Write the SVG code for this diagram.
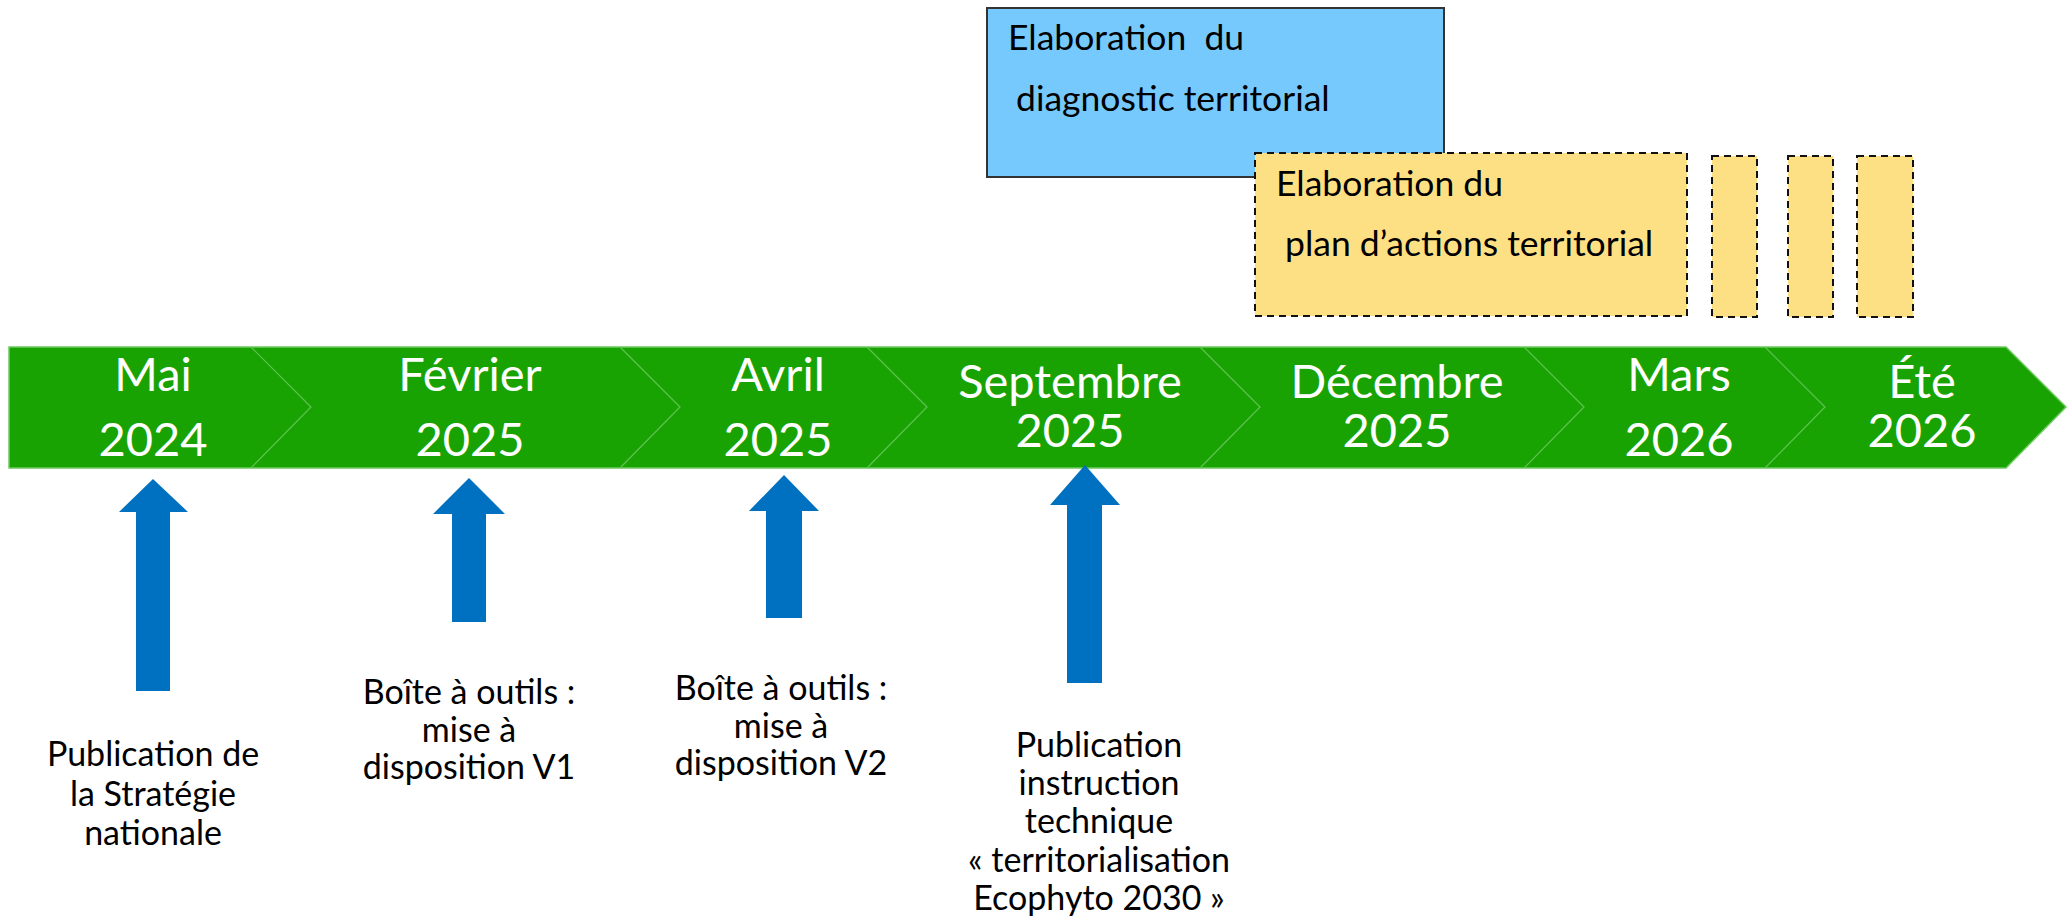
<svg xmlns="http://www.w3.org/2000/svg" width="2071" height="922" viewBox="0 0 2071 922">
<style>
.band{fill:#19A303;stroke:#6CCB5F;stroke-width:1.5}
.sep{fill:none;stroke:#5FC352;stroke-width:1.2}
.bt{font-family:Lato,"Open Sans",sans-serif;font-size:47px;fill:#fff;text-anchor:middle}
.box-t{font-family:Lato,"Open Sans",sans-serif;font-size:35.5px;fill:#000}
.lbl{font-family:Lato,"Open Sans",sans-serif;font-size:34px;fill:#000;text-anchor:middle}
.arrow{fill:#0070C0}
.blue{fill:#76C9FC;stroke:#333;stroke-width:2}
.yel{fill:#FEE084;stroke:#111;stroke-width:2;stroke-dasharray:7 5}
</style>
<rect width="2071" height="922" fill="#fff"/>
<g id="timeline">
<polygon class="band" points="9,347 2006,347 2066,407 2006,468 9,468"/>
</g>
<g id="connectors">
<polyline class="sep" points="251,347 311,407 251,468"/>
<polyline class="sep" points="620,347 680,407 620,468"/>
<polyline class="sep" points="867,347 927,407 867,468"/>
<polyline class="sep" points="1200,347 1260,407 1200,468"/>
<polyline class="sep" points="1524,347 1584,407 1524,468"/>
<polyline class="sep" points="1765,347 1825,407 1765,468"/>
</g>
<g id="m-mai"><text class="bt" x="153" y="391">Mai</text><text class="bt" x="153" y="456">2024</text></g>
<g id="m-fev"><text class="bt" x="470" y="391">Février</text><text class="bt" x="470" y="456">2025</text></g>
<g id="m-avr"><text class="bt" x="778" y="391">Avril</text><text class="bt" x="778" y="456">2025</text></g>
<g id="m-sep"><text class="bt" x="1070" y="398">Septembre</text><text class="bt" x="1070" y="447">2025</text></g>
<g id="m-dec"><text class="bt" x="1397" y="398">Décembre</text><text class="bt" x="1397" y="447">2025</text></g>
<g id="m-mar"><text class="bt" x="1679" y="391">Mars</text><text class="bt" x="1679" y="456">2026</text></g>
<g id="m-ete"><text class="bt" x="1922" y="398">Été</text><text class="bt" x="1922" y="447">2026</text></g>

<g id="diag">
<rect class="blue" x="987" y="8" width="457" height="169"/>
<text class="box-t" x="1008" y="50" xml:space="preserve">Elaboration  du</text>
<text class="box-t" x="1016" y="111">diagnostic territorial</text>
</g>
<g id="plan">
<rect class="yel" x="1255" y="153" width="432" height="163"/>
<text class="box-t" x="1276" y="196">Elaboration du</text>
<text class="box-t" x="1285" y="256">plan d’actions territorial</text>
</g>
<g id="p1"><rect class="yel" x="1712" y="156" width="45" height="161"/></g>
<g id="p2"><rect class="yel" x="1788" y="156" width="45" height="161"/></g>
<g id="p3"><rect class="yel" x="1857" y="156" width="56" height="161"/></g>

<g id="a1">
<polygon class="arrow" points="153,479 188,512 170,512 170,691 136,691 136,512 119,512"/>
<text class="lbl" x="153" y="766">Publication de</text>
<text class="lbl" x="153" y="806">la Stratégie</text>
<text class="lbl" x="153" y="845">nationale</text>
</g>
<g id="a2">
<polygon class="arrow" points="469,478 505,514 486,514 486,622 452,622 452,514 433,514"/>
<text class="lbl" x="469" y="704">Boîte à outils :</text>
<text class="lbl" x="469" y="742">mise à</text>
<text class="lbl" x="469" y="779">disposition V1</text>
</g>
<g id="a3">
<polygon class="arrow" points="784,475 819,511 802,511 802,618 766,618 766,511 749,511"/>
<text class="lbl" x="781" y="700">Boîte à outils :</text>
<text class="lbl" x="781" y="738">mise à</text>
<text class="lbl" x="781" y="775">disposition V2</text>
</g>
<g id="a4">
<polygon class="arrow" points="1085,465 1120,505 1102,505 1102,683 1067,683 1067,505 1050,505"/>
<text class="lbl" x="1099" y="757">Publication</text>
<text class="lbl" x="1099" y="795">instruction</text>
<text class="lbl" x="1099" y="833">technique</text>
<text class="lbl" x="1099" y="872">« territorialisation</text>
<text class="lbl" x="1099" y="910">Ecophyto 2030 »</text>
</g>
</svg>
